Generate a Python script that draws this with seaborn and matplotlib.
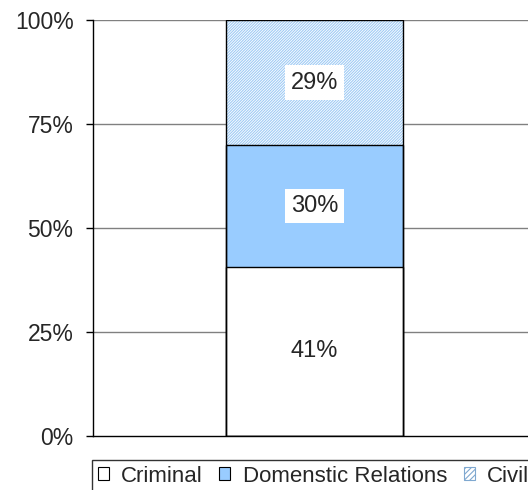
import matplotlib

matplotlib.use("Agg")
import matplotlib.pyplot as plt
import pandas as pd
import seaborn as sns
from matplotlib.patches import Patch
from matplotlib.ticker import PercentFormatter

# case mix, bottom to top (bar heights as drawn, labels as printed)
categories = ["Criminal", "Domenstic Relations", "Civil"]
shares = [40.7, 29.2, 30.1]
share_labels = ["41%", "30%", "29%"]
colors = ["#FFFFFF", "#99CCFF", "#FFFFFF"]
hatches = ["", "", "////////////"]
y_ticks = [0, 25, 50, 75, 100]

sns.set_theme(style="white")
plt.rcParams["font.family"] = ["Liberation Sans", "DejaVu Sans"]
plt.rcParams["hatch.linewidth"] = 0.8

df = pd.DataFrame({"group": ["all"] * 3, "category": categories, "share": shares,
                   "label": share_labels})
df["top"] = df["share"].cumsum()

fig = plt.figure(figsize=(5.28, 4.90), dpi=100)
ax = fig.add_axes([93 / 528, 54 / 490, 435 / 528, 416 / 490])

# layered bars, tallest first
for i in reversed(range(len(categories))):
    row = df.iloc[[i]]
    sns.barplot(
        data=row, x="group", y="top", ax=ax, width=0.8,
        color=colors[i], saturation=1, hatch=hatches[i],
        edgecolor="#9FCBF5" if hatches[i] else "black",
        linewidth=0 if hatches[i] else 1.0, zorder=2,
    )
    if hatches[i]:
        sns.barplot(
            data=row, x="group", y="top", ax=ax, width=0.8,
            fill=False, edgecolor="black", linewidth=1.0, zorder=3,
        )

for _, r in df.iterrows():
    ax.text(0, r["top"] - r["share"] / 2, r["label"], ha="center", va="center",
            fontsize=17, zorder=5,
            bbox=dict(facecolor="white", edgecolor="none", pad=4.5))

ax.set_xlim(-221.5 / 221.25, (435 - 221.5) / 221.25)
ax.set_ylim(0, 100)
ax.set_yticks(y_ticks)
ax.yaxis.set_major_formatter(PercentFormatter(decimals=0))
ax.tick_params(axis="y", left=True, length=5, width=1, color="black", labelsize=16.5, pad=9)
ax.set_xticks([])
ax.set_xlabel("")
ax.set_ylabel("")
for y in y_ticks[1:]:
    ax.axhline(y, color="#808080", linewidth=1, zorder=0)
for side in ["top", "right"]:
    ax.spines[side].set_visible(False)
for side in ["left", "bottom"]:
    ax.spines[side].set_color("black")
    ax.spines[side].set_linewidth(1)

handles = [Patch(facecolor=c, edgecolor="black" if not h else "#7FA8D0", hatch=h[:6], linewidth=0.8)
           for c, h in zip(colors, hatches)]
leg = fig.legend(handles, categories, loc="upper left", bbox_to_anchor=(92 / 528, 1 - 460 / 490),
                 ncol=3, frameon=True, fancybox=False, edgecolor="black", fontsize=16,
                 handlelength=0.5, handleheight=0.5, handletextpad=0.55, columnspacing=0.75,
                 borderpad=0.25, borderaxespad=0)
leg.get_frame().set_linewidth(1)

fig.savefig("out.png", dpi=100)
